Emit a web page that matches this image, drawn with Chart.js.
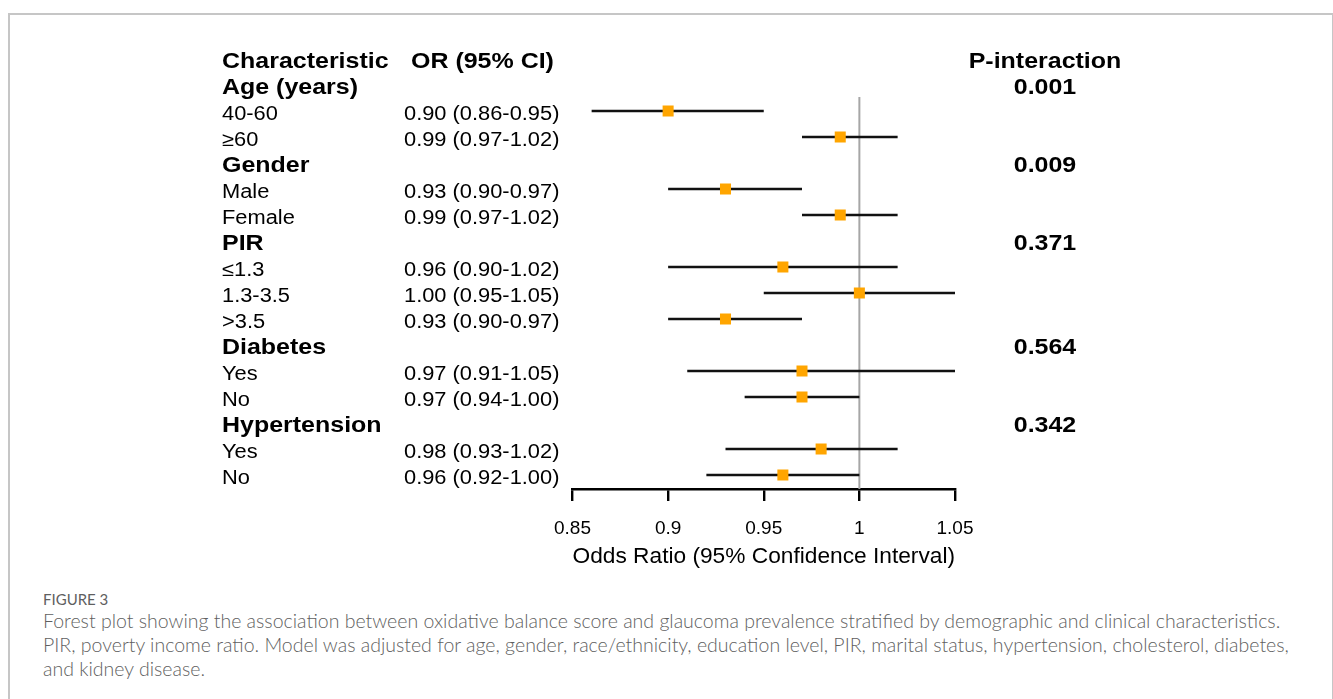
<!DOCTYPE html>
<html>
<head>
<meta charset="utf-8">
<script src="https://cdn.jsdelivr.net/npm/chart.js@4"></script>
<style>
  html, body { margin: 0; padding: 0; background: #fff; }
  body { width: 1333px; height: 699px; position: relative; overflow: hidden; }
  #frame { position: absolute; left: 8px; top: 13px; width: 1322px; height: 700px;
           border: 2px solid #c6c6c6; border-bottom: none; }
  #plot { position: absolute; left: 0; top: 0; }
  .cap { position: absolute; left: 43px; color: #5f5f5f; font-family: Lato, "Open Sans", sans-serif;
         white-space: nowrap; }
  #figno { top: 591px; font-size: 15px; line-height: 16px; font-weight: 400; }
  #captxt { top: 609px; font-size: 18px; line-height: 24px; font-weight: 300; }
</style>
</head>
<body>
<div id="frame"></div>
<canvas id="plot" width="1333" height="580"></canvas>
<div class="cap" id="figno">FIGURE 3</div>
<div class="cap" id="captxt">
  <div id="capline1">Forest plot showing the association between oxidative balance score and glaucoma prevalence stratified by demographic and clinical characteristics.</div>
  <div>PIR, poverty income ratio. Model was adjusted for age, gender, race/ethnicity, education level, PIR, marital status, hypertension, cholesterol, diabetes,</div>
  <div>and kidney disease.</div>
</div>
<script>
// rows of the table, top to bottom (row 0 is the header line)
const labels = ["Age (years)", "40-60", "≥60", "Gender", "Male", "Female", "PIR", "≤1.3", "1.3-3.5", ">3.5",
                "Diabetes", "Yes", "No", "Hypertension", "Yes", "No"];
const isGroup = [true, false, false, true, false, false, true, false, false, false, true, false, false, true, false, false];
const oddsRatio = [null, 0.90, 0.99, null, 0.93, 0.99, null, 0.96, 1.00, 0.93, null, 0.97, 0.97, null, 0.98, 0.96];
const ciLower   = [null, 0.86, 0.97, null, 0.90, 0.97, null, 0.90, 0.95, 0.90, null, 0.91, 0.94, null, 0.93, 0.92];
const ciUpper   = [null, 0.95, 1.02, null, 0.97, 1.02, null, 1.02, 1.05, 0.97, null, 1.05, 1.00, null, 1.02, 1.00];
const pInteraction = ["0.001", "", "", "0.009", "", "", "0.371", "", "", "", "0.564", "", "", "0.342", "", ""];
const xTicks = [0.85, 0.9, 0.95, 1, 1.05];

const FONT = "'Liberation Sans', Arial, sans-serif";
const SX = 1.12; // source text is a bit wider than tall

// build datasets
const points = [], whiskers = [];
labels.forEach((l, i) => {
  const row = i + 1;
  if (oddsRatio[i] == null) return;
  points.push({ x: oddsRatio[i], y: row });
  whiskers.push({ x: ciLower[i], y: row }, { x: ciUpper[i], y: row }, { x: null, y: null });
});
const yMin = 1.46, yMax = 16.54;

function stretchText(ctx, txt, x, y, align) {
  const w = ctx.measureText(txt).width * SX;
  let x0 = x;
  if (align === "center") x0 = x - w / 2;
  else if (align === "right") x0 = x - w;
  ctx.save();
  ctx.translate(x0, y);
  ctx.scale(SX, 1);
  ctx.textAlign = "left";
  ctx.fillText(txt, 0, 0);
  ctx.restore();
}

const tablePlugin = {
  id: "table",
  afterDraw(chart) {
    const ctx = chart.ctx;
    const ys = chart.scales.y;
    const base = r => ys.getPixelForValue(r) + 9.3;
    ctx.save();
    ctx.fillStyle = "#000";
    ctx.textBaseline = "alphabetic";
    const bold = "bold 22.3px " + FONT, reg = "19.5px " + FONT;
    ctx.font = bold;
    stretchText(ctx, "Characteristic", 222, base(0), "left");
    stretchText(ctx, "OR (95% CI)", 411, base(0), "left");
    stretchText(ctx, "P-interaction", 1045, base(0), "center");
    labels.forEach((l, i) => {
      const row = i + 1;
      ctx.font = isGroup[i] ? bold : reg;
      stretchText(ctx, l, 222, base(row), "left");
      if (oddsRatio[i] != null) {
        ctx.font = reg;
        const s = oddsRatio[i].toFixed(2) + " (" + ciLower[i].toFixed(2) + "-" + ciUpper[i].toFixed(2) + ")";
        stretchText(ctx, s, 404, base(row), "left");
      }
      if (pInteraction[i]) {
        ctx.font = bold;
        stretchText(ctx, pInteraction[i], 1045, base(row), "center");
      }
    });
    ctx.restore();
  }
};

new Chart(document.getElementById("plot"), {
  type: "scatter",
  data: {
    datasets: [
      {
        label: "OR",
        data: points,
        pointStyle: "rect",
        pointRadius: 7.8,
        pointHoverRadius: 7.8,
        pointBorderWidth: 0,
        backgroundColor: "#FFA500",
        borderColor: "#FFA500",
        order: 0
      },
      {
        label: "95% CI",
        data: whiskers,
        showLine: true,
        spanGaps: false,
        pointRadius: 0,
        borderColor: "#111",
        borderWidth: 2.6,
        order: 1
      },
      {
        label: "null",
        data: [{ x: 1, y: yMin }, { x: 1, y: yMax }],
        showLine: true,
        pointRadius: 0,
        borderColor: "#a6a6a6",
        borderWidth: 2,
        order: 2
      }
    ]
  },
  options: {
    responsive: false,
    animation: false,
    devicePixelRatio: 1,
    layout: { padding: { left: 572.5, right: 378, top: 97, bottom: 0 } },
    plugins: { legend: { display: false }, tooltip: { enabled: false } },
    scales: {
      x: {
        type: "linear",
        min: 0.85,
        max: 1.05,
        afterBuildTicks: s => { s.ticks = xTicks.map(v => ({ value: v })); },
        afterFit: s => { s.height = 91; },
        border: { display: true, color: "#000", width: 2.4 },
        grid: { drawOnChartArea: false, drawTicks: true, tickLength: 12, color: "#000", lineWidth: 2.4 },
        ticks: {
          color: "#000",
          padding: 16,
          maxRotation: 0,
          font: { family: FONT, size: 19 },
          callback: v => String(Number(v.toFixed(2)))
        },
        title: {
          display: true,
          text: "Odds Ratio (95% Confidence Interval)",
          color: "#000",
          font: { family: FONT, size: 22.8 },
          padding: { top: 0, bottom: 10 }
        }
      },
      y: {
        type: "linear",
        display: false,
        reverse: true,
        min: yMin,
        max: yMax
      }
    }
  },
  plugins: [tablePlugin]
});

// fit caption width to the reference line length
const cap = document.getElementById("captxt");
const l1 = document.getElementById("capline1");
l1.style.display = "inline-block";
const fs = 18 * 1238 / l1.getBoundingClientRect().width;
cap.style.fontSize = fs.toFixed(2) + "px";
</script>
</body>
</html>
